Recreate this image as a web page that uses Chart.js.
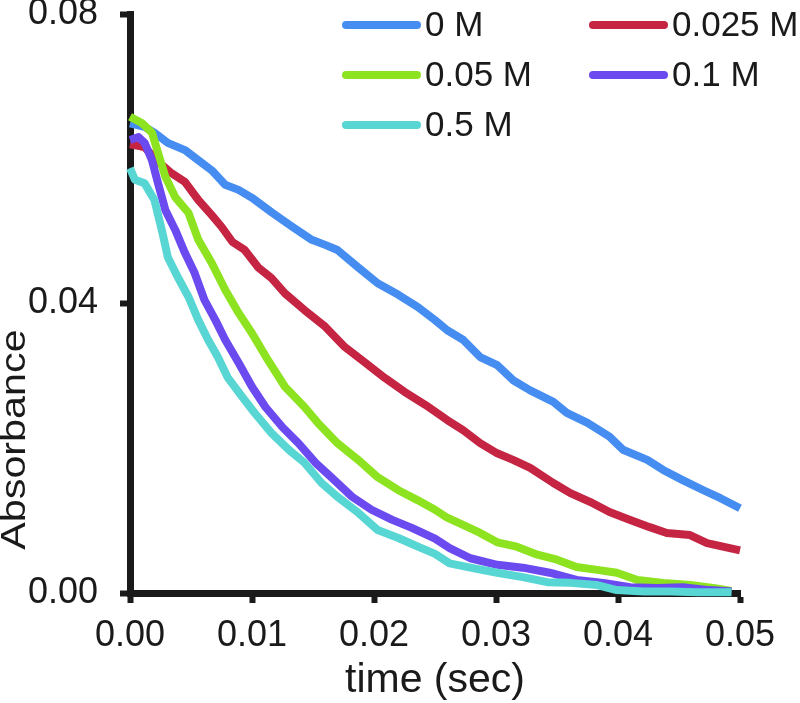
<!DOCTYPE html>
<html>
<head>
<meta charset="utf-8">
<script src="https://cdn.jsdelivr.net/npm/chart.js@4.4.0/dist/chart.umd.min.js"></script>
<style>
html,body{margin:0;padding:0;background:#fff;}
#wrap{width:800px;height:703px;}
</style>
</head>
<body>
<div id="wrap"><canvas id="c" width="800" height="703"></canvas></div>
<script>
// ---- data ----
const seriesLabels = ["0 M", "0.025 M", "0.05 M", "0.1 M", "0.5 M"];
const seriesColors = ["#468df2", "#c52542", "#8de31f", "#6b4af0", "#57d6d3"];

const t0M = [0, 0.0012, 0.002, 0.0031, 0.0045, 0.0056, 0.0067, 0.0078, 0.0089, 0.0100, 0.0116, 0.0133, 0.0149, 0.0160, 0.0170, 0.0187, 0.0203, 0.0220, 0.0236, 0.0250, 0.0260, 0.0273, 0.0287, 0.0301, 0.0314, 0.0328, 0.0347, 0.0358, 0.0375, 0.0393, 0.0404, 0.0424, 0.0437, 0.0453, 0.0470, 0.0484, 0.0500];
const a0M = [0.0649, 0.0644, 0.0636, 0.0622, 0.0612, 0.0598, 0.0584, 0.0564, 0.0557, 0.0546, 0.0526, 0.0506, 0.0488, 0.0481, 0.0474, 0.0450, 0.0428, 0.0412, 0.0395, 0.0377, 0.0363, 0.0350, 0.0326, 0.0315, 0.0294, 0.0280, 0.0264, 0.0249, 0.0235, 0.0216, 0.0198, 0.0184, 0.0170, 0.0156, 0.0142, 0.0131, 0.0117];

const t025M = [0, 0.0012, 0.0023, 0.0034, 0.0045, 0.0056, 0.0067, 0.0075, 0.0084, 0.0094, 0.0105, 0.0116, 0.0127, 0.0143, 0.0160, 0.0176, 0.0193, 0.0209, 0.0225, 0.0242, 0.0260, 0.0273, 0.0287, 0.0301, 0.0314, 0.0328, 0.0347, 0.0361, 0.0377, 0.0393, 0.0410, 0.0426, 0.0440, 0.0459, 0.0473, 0.0486, 0.0500];
const a025M = [0.0620, 0.0616, 0.0596, 0.0580, 0.0568, 0.0543, 0.0522, 0.0506, 0.0485, 0.0474, 0.0450, 0.0435, 0.0414, 0.0391, 0.0368, 0.0340, 0.0318, 0.0297, 0.0278, 0.0260, 0.0239, 0.0225, 0.0207, 0.0193, 0.0184, 0.0173, 0.0152, 0.0138, 0.0126, 0.0112, 0.0101, 0.0091, 0.0083, 0.0080, 0.0069, 0.0064, 0.0059];

const t05M = [0, 0.001, 0.0018, 0.0023, 0.0029, 0.0037, 0.0048, 0.0056, 0.0067, 0.0078, 0.0089, 0.0100, 0.0113, 0.0127, 0.0143, 0.0154, 0.0170, 0.0187, 0.0203, 0.0220, 0.0236, 0.0250, 0.0260, 0.0273, 0.0287, 0.0301, 0.0317, 0.0334, 0.0350, 0.0366, 0.0383, 0.0399, 0.0416, 0.0437, 0.0459, 0.0478, 0.0493];
const a05M = [0.0658, 0.0649, 0.0636, 0.0608, 0.0575, 0.0547, 0.0525, 0.0488, 0.0456, 0.0419, 0.0387, 0.0359, 0.0322, 0.0285, 0.0257, 0.0235, 0.0207, 0.0184, 0.0160, 0.0142, 0.0128, 0.0115, 0.0104, 0.0094, 0.0083, 0.0070, 0.0064, 0.0053, 0.0046, 0.0036, 0.0032, 0.0028, 0.0018, 0.0014, 0.0011, 0.0007, 0.0003];

const t1M = [0, 0.0007, 0.0012, 0.0018, 0.0023, 0.0029, 0.0037, 0.0045, 0.0053, 0.0061, 0.0070, 0.0078, 0.0089, 0.0100, 0.0111, 0.0125, 0.0138, 0.0152, 0.0165, 0.0182, 0.0198, 0.0215, 0.0231, 0.0250, 0.0262, 0.0279, 0.0301, 0.0322, 0.0344, 0.0366, 0.0388, 0.0410, 0.0432, 0.0453, 0.0475, 0.0493];
const a1M = [0.0626, 0.0630, 0.0622, 0.0598, 0.0566, 0.0529, 0.0502, 0.0470, 0.0442, 0.0405, 0.0377, 0.0350, 0.0318, 0.0285, 0.0257, 0.0229, 0.0207, 0.0180, 0.0160, 0.0133, 0.0115, 0.0101, 0.0090, 0.0075, 0.0062, 0.0048, 0.0039, 0.0035, 0.0028, 0.0018, 0.0014, 0.0008, 0.0007, 0.0008, 0.0004, 0.0002];

const t5M = [0, 0.0004, 0.0012, 0.0020, 0.0026, 0.0031, 0.0039, 0.0048, 0.0056, 0.0064, 0.0072, 0.0080, 0.0092, 0.0102, 0.0116, 0.0130, 0.0143, 0.0157, 0.0170, 0.0187, 0.0203, 0.0220, 0.0236, 0.0250, 0.0262, 0.0279, 0.0301, 0.0322, 0.0342, 0.0361, 0.0383, 0.0399, 0.0421, 0.0443, 0.0465, 0.0493];
const a5M = [0.0587, 0.0571, 0.0566, 0.0543, 0.0502, 0.0464, 0.0437, 0.0409, 0.0377, 0.0350, 0.0326, 0.0298, 0.0271, 0.0249, 0.0221, 0.0198, 0.0180, 0.0152, 0.0133, 0.0111, 0.0087, 0.0076, 0.0064, 0.0054, 0.0041, 0.0035, 0.0028, 0.0022, 0.0015, 0.0014, 0.0011, 0.0004, 0.0002, 0.0002, 0.0001, 0.0001];

const xTickStep = 0.01, xMin = 0, xMax = 0.05;
const yTickStep = 0.04, yMin = 0, yMax = 0.08;
const xTitle = "time (sec)";
const yTitle = "Absorbance";

// ---- build ----
const times = [t0M, t025M, t05M, t1M, t5M];
const vals = [a0M, a025M, a05M, a1M, a5M];
const FONT = "'Liberation Sans', Arial, Helvetica, sans-serif";
const INK = "#1a1a1a";

const datasets = seriesLabels.map((lab, i) => ({
  label: lab,
  data: times[i].map((t, j) => ({x: t, y: vals[i][j]})),
  borderColor: seriesColors[i],
  backgroundColor: seriesColors[i],
  borderWidth: 8,
  pointRadius: 0,
  tension: 0,
  fill: false,
  borderJoinStyle: 'round',
  clip: false,
  order: seriesLabels.length - i
}));

const legendPlugin = {
  id: 'gridLegend',
  afterDraw(chart) {
    const ctx = chart.ctx;
    const cols = [343, 590];
    const rows = [25, 75, 125];
    ctx.save();
    ctx.font = "35px " + FONT;
    ctx.textBaseline = 'middle';
    ctx.textAlign = 'left';
    seriesLabels.forEach((lab, i) => {
      const cx = cols[i % 2], cy = rows[Math.floor(i / 2)];
      ctx.strokeStyle = seriesColors[i];
      ctx.lineWidth = 8;
      ctx.lineCap = 'round';
      ctx.beginPath();
      ctx.moveTo(cx + 3, cy);
      ctx.lineTo(cx + 74, cy);
      ctx.stroke();
      ctx.fillStyle = INK;
      ctx.fillText(lab, cx + 82, cy + 1);
    });
    ctx.restore();
  }
};

// y-axis title, placed low along the axis as in the reference
const yTitlePlugin = {
  id: 'yTitle',
  afterDraw(chart) {
    const ctx = chart.ctx;
    const ys = chart.scales.y;
    const cy = ys.getPixelForValue(yMin + (yMax - yMin) * 0.265);
    ctx.save();
    ctx.translate(25, cy);
    ctx.rotate(-Math.PI / 2);
    ctx.scale(1.18, 1);
    ctx.font = "35px " + FONT;
    ctx.fillStyle = INK;
    ctx.textAlign = 'center';
    ctx.textBaseline = 'alphabetic';
    ctx.fillText(yTitle, 0, 0);
    ctx.restore();
  }
};

new Chart(document.getElementById('c'), {
  type: 'line',
  data: { datasets },
  plugins: [legendPlugin, yTitlePlugin],
  options: {
    responsive: false,
    animation: false,
    events: [],
    layout: { padding: { left: 0, top: 14, right: 60, bottom: 0 } },
    plugins: { legend: { display: false }, tooltip: { enabled: false } },
    scales: {
      x: {
        type: 'linear', min: xMin, max: xMax,
        afterFit(s) { s.height = 110; s.paddingLeft = 0; s.paddingRight = 0; },
        ticks: {
          stepSize: xTickStep, padding: 11, color: INK,
          font: { family: FONT, size: 36 },
          callback: v => Number(v).toFixed(2)
        },
        grid: { display: true, drawOnChartArea: false, drawTicks: true, tickLength: 10, tickWidth: 6, tickColor: INK },
        border: { display: true, width: 7, color: INK },
        title: { display: true, text: xTitle, color: INK, font: { family: FONT, size: 41, lineHeight: 1 }, padding: { top: 0, bottom: 2 } }
      },
      y: {
        type: 'linear', min: yMin, max: yMax,
        afterFit(s) { s.width = 130; s.paddingTop = 0; s.paddingBottom = 0; },
        ticks: {
          stepSize: yTickStep, padding: 22, color: INK,
          font: { family: FONT, size: 36 },
          callback: v => Number(v).toFixed(2)
        },
        grid: { display: true, drawOnChartArea: false, drawTicks: true, tickLength: 10, tickWidth: 6, tickColor: INK },
        border: { display: true, width: 7, color: INK },
        title: { display: false, text: yTitle }
      }
    }
  }
});
</script>
</body>
</html>
